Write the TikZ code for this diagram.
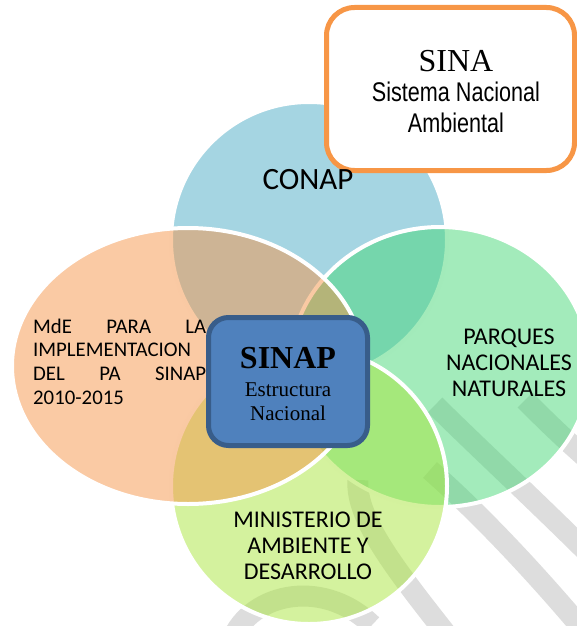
\documentclass[tikz,border=0pt]{standalone}
\usepackage{graphicx}
\usepackage{fontspec}
\setmainfont{Carlito}
\newfontfamily\timesf{Liberation Serif}
\newfontfamily\arialf{Liberation Sans}
\definecolor{cBlue}{RGB}{75,171,197}
\definecolor{cGreen}{RGB}{71,215,119}
\definecolor{cLight}{RGB}{169,229,61}
\definecolor{cOrange}{RGB}{245,149,73}
\definecolor{wmGray}{RGB}{221,221,221}
\definecolor{sinapFill}{RGB}{79,129,189}
\definecolor{sinapLine}{RGB}{56,93,138}
\definecolor{sinaLine}{RGB}{247,150,70}
\begin{document}
\begin{tikzpicture}[x=1pt,y=-1pt,
  vshape/.style={draw=white, line width=4pt, fill opacity=0.5, draw opacity=1},
  wm/.style={draw=wmGray, line width=21pt},
  lbl/.style={inner sep=0pt, text=black},
  calA/.style={font=\fontsize{20.8pt}{23.7pt}\selectfont},
  calB/.style={font=\fontsize{24pt}{26pt}\selectfont},
  serifS/.style={font=\timesf\fontsize{21pt}{24pt}\selectfont}]
\useasboundingbox (0,0) rectangle (577,626);
\clip (0,0) rectangle (577,626);
% watermark bands
\draw[wm] (430,470) .. controls (470,505) and (530,565) .. (600,650);
\draw[wm] (435,405) .. controls (470,440) and (540,505) .. (600,565);
\draw[wm] (525,400) .. controls (545,420) and (565,440) .. (600,470);
\draw[wm] (455,645) .. controls (400,575) and (355,520) .. (358,480);
\draw[wm] (230,645) .. controls (245,595) and (320,575) .. (372,625);
% venn shapes
\path[vshape, fill=cBlue] (309,240) circle[radius=138];
\path[vshape, fill=cGreen] (440,367) ellipse[x radius=150, y radius=140];
\path[vshape, fill=cLight] (309,486) circle[radius=138];
\path[vshape, fill=cOrange] (188,366) ellipse[x radius=176, y radius=138];
% SINA box
\path[draw=sinaLine, fill=white, line width=5pt, rounded corners=28pt]
  (326.5,7.5) rectangle (574.5,170.5);
% SINAP box
\path[draw=sinapLine, fill=sinapFill, line width=5pt, rounded corners=20pt]
  (208.5,317.5) rectangle (367.5,445.5);
% texts
\node[lbl, anchor=base, font=\fontsize{31pt}{37pt}\selectfont] (conap) at (308,189) {CONAP};
\node[lbl, anchor=base west, calA] (mde1) at (33,333) {\makebox[173pt][s]{MdE\hfill PARA\hfill LA}};
\node[lbl, anchor=base west, calA] (mde2) at (33,356.7) {IMPLEMENTACION};
\node[lbl, anchor=base west, calA] (mde3) at (33,380.4) {\makebox[173pt][s]{DEL\hfill PA\hfill SINAP}};
\node[lbl, anchor=base west, calA] (mde4) at (33,404.1) {2010-2015};
\node[lbl, anchor=base, calB] (pnn1) at (509,344) {PARQUES};
\node[lbl, anchor=base, calB] (pnn2) at (509,370) {NACIONALES};
\node[lbl, anchor=base, calB] (pnn3) at (509,396) {NATURALES};
\node[lbl, anchor=base, calB] (min1) at (308,527.3) {MINISTERIO DE};
\node[lbl, anchor=base, calB] (min2) at (308,553.3) {AMBIENTE Y};
\node[lbl, anchor=base, calB] (min3) at (308,579.3) {DESARROLLO};
\node[lbl, anchor=base, font=\timesf\bfseries\fontsize{32pt}{38pt}\selectfont] (sinap) at (288,368) {SINAP};
\node[lbl, anchor=base, serifS] (estr) at (288,396.7) {Estructura};
\node[lbl, anchor=base, serifS] (nac) at (288,420.7) {Nacional};
\node[lbl, anchor=base, font=\timesf\fontsize{32pt}{38pt}\selectfont] (sina) at (456,71) {SINA};
\node[lbl, anchor=base, font=\arialf\fontsize{27pt}{32pt}\selectfont] (sis) at (456,101) {\scalebox{0.8}[1]{Sistema Nacional}};
\node[lbl, anchor=base, font=\arialf\fontsize{27pt}{32pt}\selectfont] (amb) at (456,132.7) {\scalebox{0.8}[1]{Ambiental}};
\end{tikzpicture}
\end{document}
